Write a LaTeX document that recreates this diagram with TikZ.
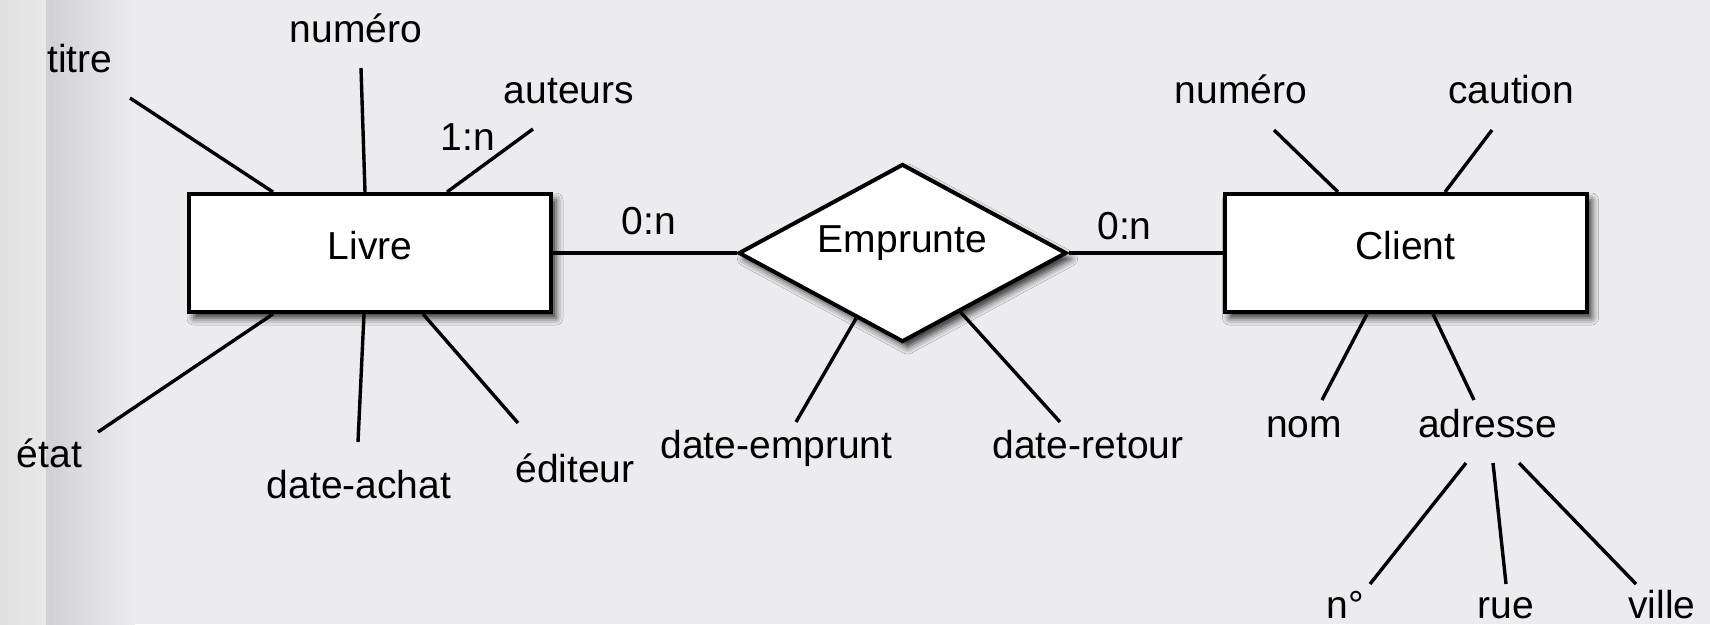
\documentclass[tikz,border=0pt]{standalone}
\usepackage{fontspec}
\setmainfont{Liberation Sans}
\usetikzlibrary{shapes.geometric,shadows.blur,calc}

\definecolor{paper}{RGB}{236,236,239}
\definecolor{stripA}{RGB}{224,224,225}
\definecolor{stripB}{RGB}{233,233,234}
\definecolor{fold}{RGB}{208,208,213}

\tikzset{
  boxshadow/.style={blur shadow={shadow xshift=5pt, shadow yshift=-6pt,
      shadow blur radius=7pt, shadow opacity=80}},
  entity/.style={draw=black, fill=white, line width=4pt, rectangle,
    minimum width=362pt, minimum height=118pt, inner sep=0pt,
    text height=30pt, text depth=18pt, boxshadow},
  relation/.style={draw=black, fill=white, line width=4pt, diamond,
    aspect=1.84, minimum width=328pt, minimum height=178pt, inner sep=0pt,
    text height=30pt, text depth=32pt, boxshadow},
  attr/.style={anchor=base, inner sep=0pt},
  link/.style={line width=3.4pt, line cap=butt},
}

\begin{document}
\begin{tikzpicture}[x=1pt, y=-1pt, font=\fontsize{39}{47}\selectfont]
  % page background with the folded left margin
  \useasboundingbox (0,0) rectangle (1710,624);
  \fill[paper] (0,0) rectangle (1710,624);
  \shade[left color=stripA, right color=stripB] (0,0) rectangle (46,624);
  \shade[left color=fold, right color=paper] (46,0) rectangle (135,624);

  % entities and relationship
  \node[entity]   (livre)  at (370,253)    {Livre};
  \node[entity]   (client) at (1405.5,253) {Client};
  \node[relation] (emp)    at (902.5,253)  {Emprunte};

  % attribute labels
  \node[attr] (titre)   at (80,72)     {titre};
  \node[attr] (numL)    at (356,42)    {numéro};
  \node[attr] (auteurs) at (569,103)   {auteurs};
  \node[attr] (etat)    at (49.5,467)  {état};
  \node[attr] (achat)   at (359,498)   {date-achat};
  \node[attr] (editeur) at (575,482)   {éditeur};
  \node[attr] (demp)    at (776.5,458) {date-emprunt};
  \node[attr] (dret)    at (1088,458)  {date-retour};
  \node[attr] (numR)    at (1241,103)  {numéro};
  \node[attr] (caution) at (1511,103)  {caution};
  \node[attr] (nom)     at (1304,437)  {nom};
  \node[attr] (adresse) at (1487.5,437){adresse};
  \node[attr] (no)      at (1345,618)  {n°};
  \node[attr] (rue)     at (1506,618)  {rue};
  \node[attr] (ville)   at (1662,618)  {ville};

  % cardinalities
  \node[attr] (cardA) at (649,234)    {0:n};
  \node[attr] (cardB) at (1124.5,239) {0:n};
  \node[attr] (cardC) at (468,150)    {1:n};

  % relationship links
  \draw[link] (livre.east) -- (emp.west);
  \draw[link] (emp.east) -- (client.west);

  % Livre attributes
  \draw[link] ($(titre.base)+(50,26)$)    -- ([xshift=86pt]livre.north west);
  \draw[link] ($(numL.base)+(5,26)$)      -- ([xshift=178pt]livre.north west);
  \draw[link] ($(auteurs.base)+(-36,26)$) -- ([xshift=260pt]livre.north west);
  \draw[link] ($(etat.base)+(48.5,-35)$)  -- ([xshift=86pt]livre.south west);
  \draw[link] ($(achat.base)+(-1,-56)$)   -- ([xshift=177pt]livre.south west);
  \draw[link] ($(editeur.base)+(-57,-59)$)-- ([xshift=236pt]livre.south west);

  % Emprunte attributes
  \draw[link] ($(demp.base)+(19.5,-36)$) -- ($(emp.south)!0.28!(emp.west)$);
  \draw[link] ($(dret.base)+(-28,-36)$)  -- ($(emp.south)!0.35!(emp.east)$);

  % Client attributes
  \draw[link] ($(numR.base)+(33,27)$)     -- ([xshift=115.5pt]client.north west);
  \draw[link] ($(caution.base)+(-19,27)$) -- ([xshift=222.5pt]client.north west);
  \draw[link] ($(nom.base)+(18,-37)$)     -- ([xshift=144.5pt]client.south west);
  \draw[link] ($(adresse.base)+(-13.5,-37)$) -- ([xshift=210.5pt]client.south west);

  % components of adresse
  \draw[link] ($(adresse.base)+(-21.5,26)$) -- ($(no.base)+(25,-34)$);
  \draw[link] ($(adresse.base)+(5.5,26)$)   -- ($(rue.base)+(0,-34)$);
  \draw[link] ($(adresse.base)+(31.5,26)$)  -- ($(ville.base)+(-26,-34)$);
\end{tikzpicture}
\end{document}
